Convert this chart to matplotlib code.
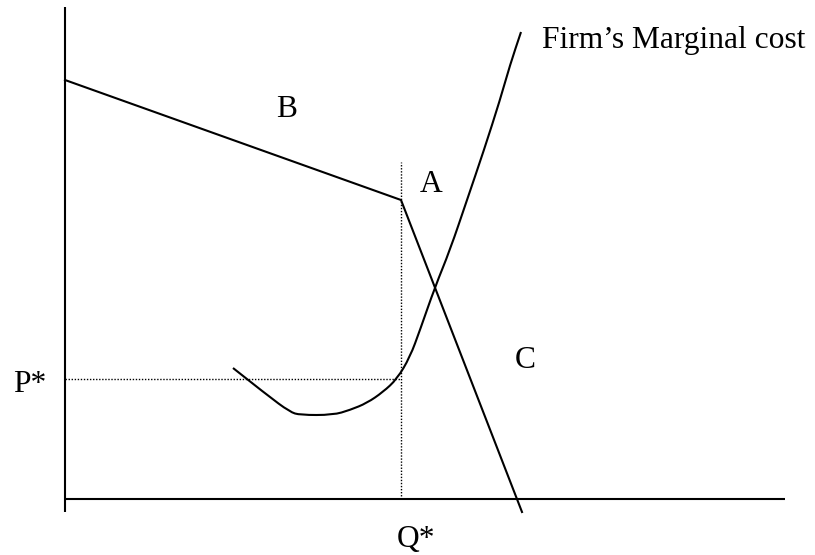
import matplotlib
matplotlib.use("Agg")
import matplotlib.pyplot as plt
from matplotlib.path import Path
from matplotlib.patches import PathPatch

# Kinked demand curve (units: quantity Q, price P)
demand_q = [0.0, 33.6, 45.7]
demand_p = [41.9, 29.9, -1.3]

mc_q = [16.8, 20.2, 22.5, 23.5, 26.8, 28.5, 30.2, 31.8, 33.2, 34.5, 35.5,
        37.0, 38.5, 40.2, 41.9, 43.5, 44.5, 45.6]
mc_p = [13.1, 10.4, 8.7, 8.4, 8.4, 8.9, 9.6, 10.7, 12.0, 14.2, 16.9,
        21.2, 24.9, 29.9, 34.9, 39.9, 43.4, 46.7]

q_star = 33.6
p_star = 12.0
kink_top = 33.7          # top of the dotted vertical line

x_axis_end = 72.0
y_axis_top = 49.2
y_axis_bottom = -1.3

labels = {
    "B": (21.1, 38.2),
    "A": (35.5, 30.7),
    "C": (45.0, 13.1),
    "P*": (-5.2, 10.7),
    "Q*": (33.2, -4.8),
    "Firm\u2019s Marginal cost": (47.7, 45.1),
}

fig = plt.figure(figsize=(8.15, 5.55), dpi=100)
ax = fig.add_axes([0, 0, 1, 1])
ax.set_xlim(-6.5, 75.0)
ax.set_ylim(-5.6, 49.9)
ax.axis("off")

lw = 1.5
# axes
ax.plot([0, 0], [y_axis_bottom, y_axis_top], color="black", lw=lw, solid_capstyle="butt")
ax.plot([0, x_axis_end], [0, 0], color="black", lw=lw, solid_capstyle="butt")

# dotted guides
ax.plot([q_star, q_star], [0, kink_top], color="black", lw=1.0,
        linestyle=(0, (1, 1.2)))
ax.plot([0, q_star], [p_star, p_star], color="black", lw=1.0,
        linestyle=(0, (1, 1.2)))

# demand
ax.plot(demand_q, demand_p, color="black", lw=lw, solid_joinstyle="miter")

# marginal cost: smooth quadratic Bezier through the read points
pts = list(zip(mc_q, mc_p))
verts = [pts[0]]
codes = [Path.MOVETO]
for i in range(1, len(pts) - 1):
    mid = ((pts[i][0] + pts[i + 1][0]) / 2, (pts[i][1] + pts[i + 1][1]) / 2)
    verts += [pts[i], mid]
    codes += [Path.CURVE3, Path.CURVE3]
verts.append(pts[-1])
codes.append(Path.LINETO)
ax.add_patch(PathPatch(Path(verts, codes), facecolor="none",
                       edgecolor="black", lw=lw))

for txt, (x, y) in labels.items():
    ax.text(x, y, txt, ha="left", va="baseline", fontsize=22.7,
            family=["Liberation Serif", "DejaVu Serif"], color="black")

fig.savefig("out.png", dpi=100)
